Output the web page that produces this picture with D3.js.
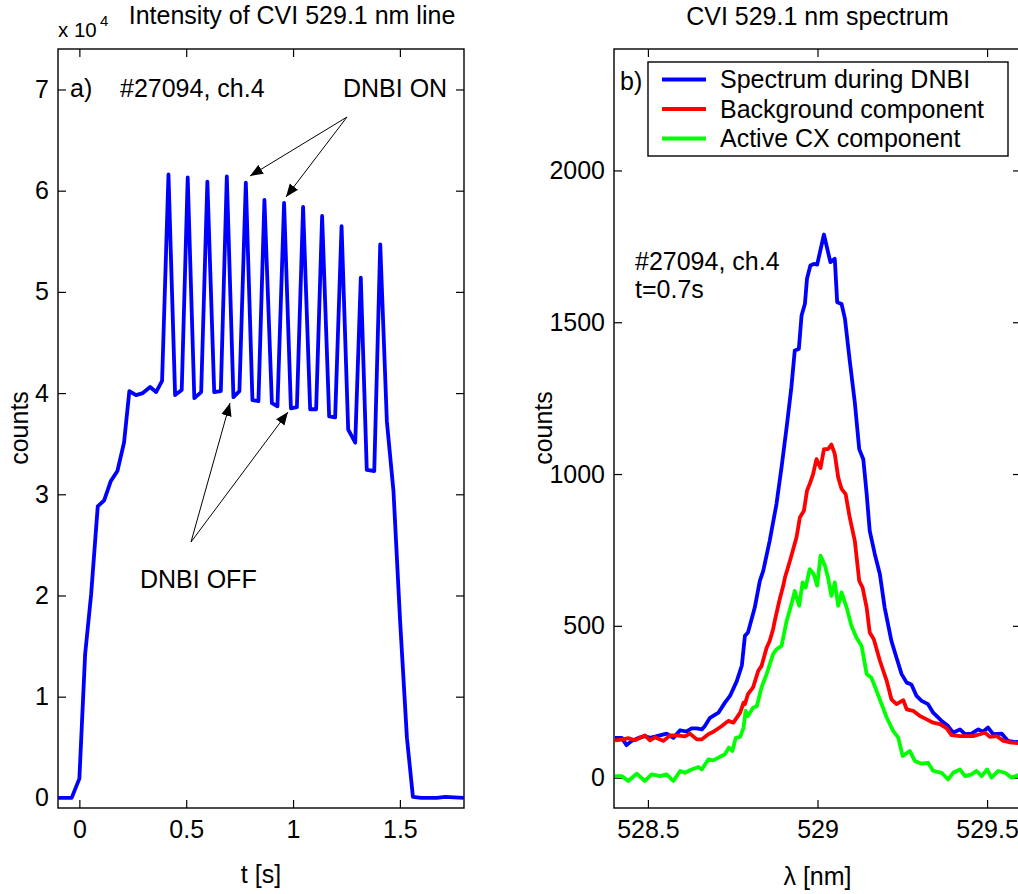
<!DOCTYPE html>
<html><head><meta charset="utf-8">
<script src="https://cdn.jsdelivr.net/npm/d3@7"></script>
<style>
body{margin:0;background:#fff;}
text{font-family:"Liberation Sans",Arial,Helvetica,sans-serif;fill:#000;}
</style></head><body>
<svg id="chart" width="1018" height="894"></svg>
<script>
// ---------- Data ----------
// Panel a) time trace of CVI 529.1 nm intensity
const timeS = [-0.098,-0.036,0.0,0.027,0.055,0.086,0.116,0.147,0.178,0.209,0.234,0.265,0.297,0.331,0.359,0.387,
  0.417,0.448,0.479,0.507,0.538,0.570,0.599,0.631,0.662,0.690,0.721,0.749,0.779,0.810,0.838,0.866,0.901,0.927,
  0.958,0.990,1.018,1.047,1.080,1.108,1.136,1.169,1.197,1.227,1.258,1.291,1.317,1.345,1.380,1.408,1.439,1.470,
  1.501,1.533,1.561,1.600,1.673,1.712,1.798];
const intensityCounts = [0,0,1900,14200,20100,28800,29400,31300,32300,35100,40200,39800,40000,40600,40100,41200,
  61600,39800,40300,61300,39500,40100,60900,40100,40200,61400,39600,40200,60800,39300,39200,59100,39000,38700,
  58800,38500,38600,58400,38400,38400,57500,37700,37600,56500,36400,35100,51400,32400,32300,54700,37200,30300,
  17500,5900,100,0,0,100,0];
const leftXTicks = [0,0.5,1,1.5];
const leftYTicks = [0,10000,20000,30000,40000,50000,60000,70000];
const leftYTickLabels = ["0","1","2","3","4","5","6","7"];

// Panel b) spectra
const blueLambda = [528.403,528.423,528.437,528.452,528.472,528.491,528.506,528.521,528.541,528.555,528.575,528.595,
  528.614,528.629,528.644,528.659,528.668,528.683,528.708,528.727,528.742,528.762,528.777,528.786,528.795,528.815,
  528.830,528.840,528.859,528.879,528.894,528.909,528.923,528.933,528.945,528.953,528.963,528.969,528.979,528.989,
  528.999,529.019,529.038,529.051,529.058,529.071,529.081,529.095,529.110,529.123,529.135,529.145,529.154,529.169,
  529.184,529.198,529.218,529.233,529.248,529.263,529.277,529.292,529.307,529.326,529.341,529.366,529.385,529.400,
  529.420,529.435,529.454,529.474,529.488,529.503,529.518,529.543,529.562,529.582,529.600];
const blueCounts = [131,131,107,121,131,137,131,135,141,145,131,156,152,162,162,159,170,197,214,247,269,318,370,467,
  478,560,648,681,780,901,1022,1154,1286,1407,1412,1522,1561,1643,1687,1692,1690,1789,1698,1709,1566,1560,1511,
  1374,1236,1082,1049,934,813,736,670,560,450,395,341,313,307,269,253,242,214,187,170,148,159,143,145,159,151,165,
  143,145,121,117,118];

const redLambda = [528.403,528.423,528.442,528.462,528.491,528.506,528.521,528.546,528.565,528.585,528.609,528.624,
  528.644,528.659,528.678,528.693,528.718,528.737,528.752,528.772,528.782,528.786,528.795,528.810,528.825,528.835,
  528.850,528.859,528.869,528.874,528.889,528.899,528.904,528.913,528.923,528.938,528.948,528.960,528.969,528.977,
  528.987,528.997,529.009,529.019,529.031,529.041,529.051,529.061,529.071,529.083,529.095,529.110,529.123,529.133,
  529.145,529.154,529.166,529.184,529.204,529.218,529.233,529.253,529.263,529.282,529.302,529.322,529.341,529.361,
  529.381,529.395,529.420,529.440,529.459,529.479,529.494,529.508,529.528,529.548,529.572,529.600];
const redCounts = [123,125,130,123,139,123,133,121,139,139,136,145,126,126,143,151,170,187,181,214,247,242,275,297,
  351,368,428,450,489,516,590,632,659,692,731,791,857,879,945,967,1000,1049,1020,1082,1082,1097,1066,989,951,934,
  857,780,648,626,560,478,456,385,319,258,242,255,225,220,203,192,181,176,162,140,137,137,137,143,148,134,137,121,
  115,113];

const greenLambda = [528.403,528.423,528.442,528.467,528.491,528.511,528.536,528.555,528.575,528.595,528.609,528.629,
  528.649,528.659,528.678,528.693,528.708,528.727,528.739,528.749,528.759,528.772,528.782,528.788,528.795,528.810,
  528.821,528.835,528.850,528.869,528.879,528.894,528.909,528.923,528.933,528.946,528.956,528.965,528.977,528.989,
  528.999,529.009,529.022,529.031,529.041,529.051,529.061,529.071,529.086,529.100,529.115,529.130,529.145,529.159,
  529.174,529.189,529.204,529.223,529.238,529.251,529.272,529.287,529.307,529.326,529.341,529.366,529.385,529.400,
  529.420,529.435,529.454,529.469,529.484,529.500,529.513,529.533,529.553,529.572,529.600];
const greenCounts = [5,5,-11,13,-11,11,5,11,-11,22,16,27,35,27,60,57,66,77,99,88,131,134,165,220,203,230,235,297,
  341,407,423,434,516,571,615,566,643,626,687,670,632,731,698,659,599,643,566,610,560,500,461,434,341,329,286,242,
  198,154,132,71,88,55,46,49,22,16,-6,16,27,5,11,22,5,27,0,22,16,0,11];

const rightXTicks = [528.5,529,529.5];
const rightXTickLabels = ["528.5","529","529.5"];
const rightYTicks = [0,500,1000,1500,2000];

const legendLabels = ["Spectrum during DNBI","Background component","Active CX component"];
const seriesColors = ["#0000ff","#ff0000","#00ff00"];

// ---------- Drawing ----------
const svg = d3.select("#chart");
const FS = 25;
const TICK = 8;

function panel(cfg){
  const g = svg.append("g");
  const x = d3.scaleLinear().domain(cfg.xDomain).range([cfg.x0, cfg.x1]);
  const y = d3.scaleLinear().domain(cfg.yDomain).range([cfg.y1, cfg.y0]);
  const clipId = "clip" + cfg.id;
  svg.append("clipPath").attr("id", clipId).append("rect")
    .attr("x", cfg.x0).attr("y", cfg.y0).attr("width", cfg.x1-cfg.x0).attr("height", cfg.y1-cfg.y0);

  const style = a => {
    a.select(".domain").remove();
    a.selectAll("line").attr("stroke","#000").attr("stroke-width",1.2);
    a.selectAll("text").attr("font-size",FS).attr("font-family",'"Liberation Sans",Arial,sans-serif').attr("fill","#000");
  };
  g.append("g").attr("transform",`translate(0,${cfg.y1})`)
    .call(d3.axisBottom(x).tickValues(cfg.xTicks).tickSize(-TICK).tickPadding(12).tickFormat((d,i)=>cfg.xLabels[i]))
    .call(style);
  g.append("g").attr("transform",`translate(0,${cfg.y0})`)
    .call(d3.axisTop(x).tickValues(cfg.xTicks).tickSize(-TICK).tickFormat(""))
    .call(style);
  g.append("g").attr("transform",`translate(${cfg.x0},0)`)
    .call(d3.axisLeft(y).tickValues(cfg.yTicks).tickSize(-TICK).tickPadding(9).tickFormat((d,i)=>cfg.yLabels[i]))
    .call(style);
  g.append("g").attr("transform",`translate(${cfg.x1},0)`)
    .call(d3.axisRight(y).tickValues(cfg.yTicks).tickSize(-TICK).tickFormat(""))
    .call(style);

  const line = d3.line().x(d=>x(d[0])).y(d=>y(d[1]));
  cfg.series.forEach(s=>{
    g.append("path").datum(d3.zip(s.xs, s.ys))
      .attr("d", line).attr("fill","none").attr("stroke", s.color)
      .attr("stroke-width", 3.8).attr("stroke-linejoin","round").attr("clip-path",`url(#${clipId})`);
  });
  g.append("rect").attr("x",cfg.x0).attr("y",cfg.y0).attr("width",cfg.x1-cfg.x0).attr("height",cfg.y1-cfg.y0)
    .attr("fill","none").attr("stroke","#000").attr("stroke-width",1.4);
  return {g,x,y};
}

const A = panel({id:"a", x0:58, x1:464, y0:49, y1:808,
  xDomain:[-0.1,1.8], yDomain:[-1000,74000],
  xTicks:leftXTicks, xLabels:leftXTicks.map(String),
  yTicks:leftYTicks, yLabels:leftYTickLabels,
  series:[{xs:timeS, ys:intensityCounts, color:seriesColors[0]}]});

const B = panel({id:"b", x0:614, x1:1021, y0:49, y1:808,
  xDomain:[528.4,529.6], yDomain:[-100,2400],
  xTicks:rightXTicks, xLabels:rightXTickLabels,
  yTicks:rightYTicks, yLabels:rightYTicks.map(String),
  series:[{xs:blueLambda, ys:blueCounts, color:seriesColors[0]},
          {xs:redLambda, ys:redCounts, color:seriesColors[1]},
          {xs:greenLambda, ys:greenCounts, color:seriesColors[2]}]});

function txt(x,y,s,opts={}){
  const t = svg.append("text").attr("x",x).attr("y",y).attr("font-size",opts.fs||FS).text(s);
  if(opts.anchor) t.attr("text-anchor",opts.anchor);
  if(opts.rot) t.attr("transform",`rotate(-90,${x},${y})`);
  return t;
}

// titles
txt(292,24,"Intensity of CVI 529.1 nm line",{anchor:"middle"});
txt(817.5,25,"CVI 529.1 nm spectrum",{anchor:"middle"});
txt(58,37,"x 10",{fs:20.5});
txt(100,26,"4",{fs:15});

// axis labels
txt(28,428,"counts",{anchor:"middle",rot:true});
txt(552,428,"counts",{anchor:"middle",rot:true});
txt(261,883,"t [s]",{anchor:"middle"});
txt(817.5,885,"λ [nm]",{anchor:"middle"});

// panel a annotations
txt(70,97,"a)");
txt(120,97,"#27094, ch.4");
txt(343,97,"DNBI ON");
txt(140,588,"DNBI OFF");

svg.append("defs").append("marker").attr("id","ah").attr("viewBox","0 0 10 10")
  .attr("refX",10).attr("refY",5).attr("markerWidth",13).attr("markerHeight",13)
  .attr("markerUnits","userSpaceOnUse").attr("orient","auto")
  .append("path").attr("d","M0,1 L10,5 L0,9 Z").attr("fill","#000");
const arrows = [[347,117,250,176],[347,117,286,197],[191,542,230,403],[191,542,288,412]];
arrows.forEach(a=>{
  svg.append("line").attr("x1",a[0]).attr("y1",a[1]).attr("x2",a[2]).attr("y2",a[3])
    .attr("stroke","#000").attr("stroke-width",1).attr("marker-end","url(#ah)");
});

// panel b annotations
txt(620,90,"b)");
txt(635,270,"#27094, ch.4");
txt(635,298,"t=0.7s");

// legend
svg.append("rect").attr("x",648).attr("y",62).attr("width",360).attr("height",94)
  .attr("fill","#fff").attr("stroke","#000").attr("stroke-width",1.4);
const legY = [79.5,109,138.5];
legendLabels.forEach((l,i)=>{
  svg.append("line").attr("x1",662).attr("x2",706).attr("y1",legY[i]).attr("y2",legY[i])
    .attr("stroke",seriesColors[i]).attr("stroke-width",3.8);
  txt(720,legY[i]+8.7,l);
});
</script>
</body></html>
